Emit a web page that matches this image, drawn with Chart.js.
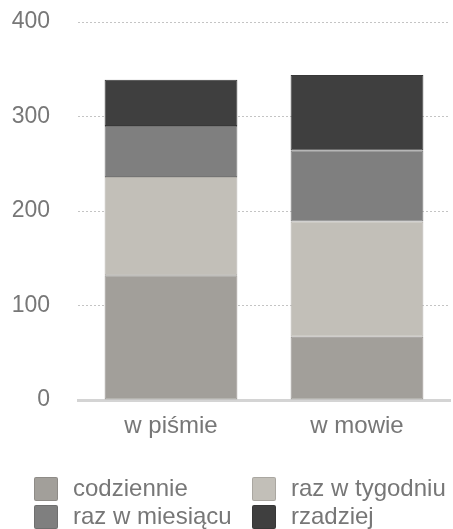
<!DOCTYPE html>
<html>
<head>
<meta charset="utf-8">
<script src="https://cdn.jsdelivr.net/npm/chart.js@4"></script>
<style>
  html, body { margin: 0; padding: 0; background: #fff; }
  #wrap { position: relative; width: 453px; height: 529px; }
  #chart { position: absolute; left: 0; top: 0; }
  #legend { position: absolute; left: 0; top: 0; width: 453px; height: 529px; pointer-events: none;
            font-family: "Liberation Sans", Arial, sans-serif; font-size: 24px; color: #777; }
  .item { position: absolute; height: 24px; line-height: 24px; white-space: nowrap; }
  .box { position: absolute; left: 0; top: 0; width: 24px; height: 24px; box-sizing: border-box;
         border: 1px solid rgba(0,0,0,0.12); border-radius: 2px; }
  .txt { position: absolute; left: 39px; top: -1px; }
</style>
</head>
<body>
<div id="wrap">
  <canvas id="chart" width="453" height="446"></canvas>
  <div id="legend"></div>
</div>
<script>
// How often each form is used, split by frequency
const categories = ['w piśmie', 'w mowie'];
const seriesNames = ['codziennie', 'raz w tygodniu', 'raz w miesiącu', 'rzadziej'];
const codziennie = [132, 67];
const razWTygodniu = [104, 122];
const razWMiesiacu = [54, 75];
const rzadziej = [49, 80];
const yTicks = [0, 100, 200, 300, 400];

const colors = ['#a29f9a', '#c2bfb8', '#7f7f7f', '#3f3f3f'];
const edgeColors = ['#96938e', '#b3b0aa', '#747474', '#383838'];
const seriesValues = [codziennie, razWTygodniu, razWMiesiacu, rzadziej];

const FONT = '"Liberation Sans", Arial, sans-serif';
const TEXT = '#777';

const datasets = seriesNames.map((name, i) => ({
  label: name,
  data: seriesValues[i],
  backgroundColor: colors[i],
  borderColor: edgeColors[i],
  borderWidth: 1,
  borderSkipped: false,
  barPercentage: 0.714,
  categoryPercentage: 1.0
}));

new Chart(document.getElementById('chart'), {
  type: 'bar',
  data: { labels: categories, datasets },
  options: {
    responsive: false,
    animation: false,
    layout: { padding: { top: 22, right: 3, bottom: 2, left: 0 } },
    plugins: { legend: { display: false }, tooltip: { enabled: false } },
    scales: {
      x: {
        stacked: true,
        afterFit: (scale) => { scale.height = 44; },
        grid: { display: false, drawTicks: false },
        border: { display: true, color: '#d4d4d4', width: 3 },
        ticks: { color: TEXT, font: { family: FONT, size: 24 }, padding: 12 }
      },
      y: {
        stacked: true,
        min: 0,
        max: 400,
        afterFit: (scale) => { scale.width = 78; scale.paddingTop = 0; scale.paddingBottom = 0; },
        afterBuildTicks: (scale) => { scale.ticks = yTicks.map(v => ({ value: v })); },
        grid: {
          color: (ctx) => ctx.tick && ctx.tick.value === 0 ? 'rgba(0,0,0,0)' : '#c4c4c4',
          lineWidth: 1,
          drawTicks: false
        },
        border: { display: false, dash: [2, 2] },
        ticks: { color: TEXT, font: { family: FONT, size: 23 }, padding: 28 }
      }
    }
  }
});

// Two-column legend under the plot
const legend = document.getElementById('legend');
const cols = [34, 252];
const rows = [477, 505];
seriesNames.forEach((name, i) => {
  const item = document.createElement('div');
  item.className = 'item';
  item.style.left = cols[i % 2] + 'px';
  item.style.top = rows[Math.floor(i / 2)] + 'px';
  const box = document.createElement('div');
  box.className = 'box';
  box.style.background = colors[i];
  const txt = document.createElement('span');
  txt.className = 'txt';
  txt.textContent = name;
  item.appendChild(box);
  item.appendChild(txt);
  legend.appendChild(item);
});
</script>
</body>
</html>
